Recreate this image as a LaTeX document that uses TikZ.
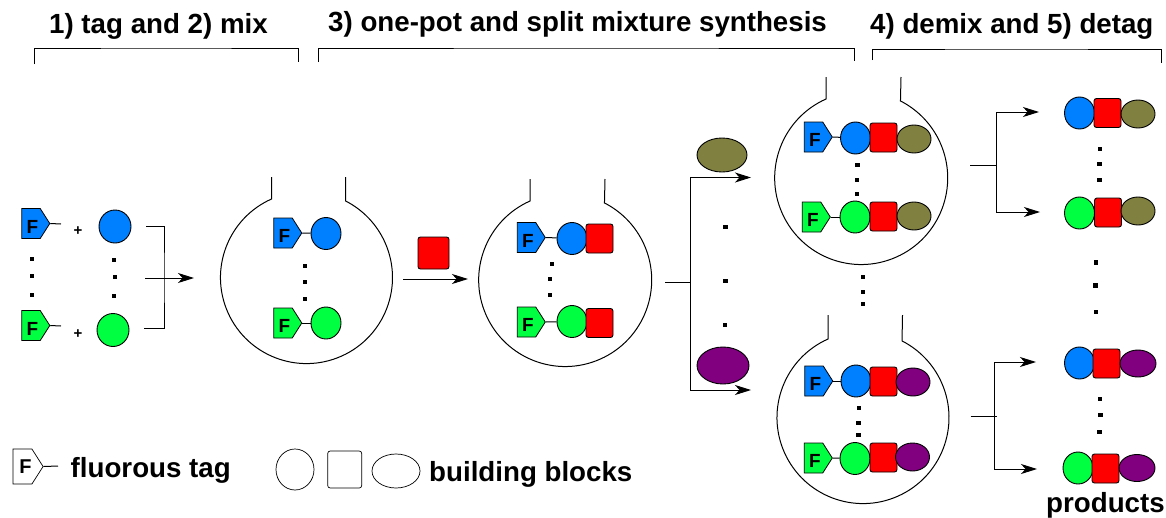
\documentclass[tikz,border=0pt]{standalone}
\usepackage{xcolor}
\usepackage{fontspec}
\setmainfont{Liberation Sans}
\usetikzlibrary{shapes.geometric,shapes.symbols,arrows.meta,positioning}
\definecolor{BlockBlue}{RGB}{0,128,255}
\definecolor{BlockGreen}{RGB}{0,255,64}
\definecolor{BlockRed}{RGB}{255,0,0}
\definecolor{BlockOlive}{RGB}{128,128,64}
\definecolor{BlockPurple}{RGB}{128,0,128}
\newcommand{\tagF}{\raisebox{-3pt}[\height][0pt]{\kern1.5pt F\kern-1.5pt}}
\tikzset{
    line/.style={line width=1pt,color=black},
    tagbox/.style={signal,signal to=east,signal from=nowhere,signal pointer angle=115,draw,line width=0.8pt,inner sep=0pt,xshift=-3.5pt,minimum width=28pt,minimum height=30pt,font=\bfseries\fontsize{19}{19}\selectfont},
    blockcirc/.style={ellipse,draw,line width=0.9pt,inner sep=0pt,minimum width=30pt,minimum height=32pt},
    blocksq/.style={rectangle,draw,line width=0.9pt,rounded corners=2.5pt,inner sep=0pt,minimum width=27pt,minimum height=29pt},
    blockell/.style={ellipse,draw,line width=0.9pt,inner sep=0pt,minimum width=34pt,minimum height=28pt},
    dotmark/.style={rectangle,fill=black,inner sep=0pt,minimum size=4.5pt},
    label/.style={inner sep=0pt,anchor=base west,font=\bfseries\fontsize{27.7}{30}\selectfont},
    plusmark/.style={inner sep=0pt,font=\bfseries\fontsize{15}{15}\selectfont}
}
\begin{document}
\begin{tikzpicture}[x=1pt,y=1pt,yscale=-1,>={Stealth[length=16pt,width=10pt,inset=4.5pt]}]
    \useasboundingbox (0,0) rectangle (1166,517);

    \node[label] (titlemix) at (49,33) {1) tag and 2) mix};
    \node[label] (titlesyn) at (328,31) {3) one-pot and split mixture synthesis};
    \node[label] (titledemix) at (870,33) {4) demix and 5) detag};
    \coordinate (brmixa) at (34,64);
    \coordinate (brmixt) at (166,48);
    \coordinate (brmixb) at (298,62);
    \coordinate (brsyna) at (318,62);
    \coordinate (brsynt) at (586,48);
    \coordinate (brsynb) at (854,61);
    \coordinate (brdemixa) at (872,60);
    \coordinate (brdemixt) at (1016,49);
    \coordinate (brdemixb) at (1161,63);
    \draw[line] (brmixa) |- (brmixt) -| (brmixb);
    \draw[line] (brsyna) |- (brsynt) -| (brsynb);
    \draw[line] (brdemixa) |- (brdemixt) -| (brdemixb);

    \draw[line] (271.5,177) -- (271.5,199) arc[start angle=246,end angle=-63,radius=86] -- (345.5,177);
    \draw[line] (530,179) -- (530,201) arc[start angle=246,end angle=-63,radius=86.5] -- (605,179);
    \draw[line] (826,77) -- (826,99) arc[start angle=246,end angle=-63,radius=86.5] -- (901,77);
    \draw[line] (828,315) -- (828,339) arc[start angle=246,end angle=-63,radius=86] -- (902.5,315);

    \coordinate (tailblue) at (61,224);
    \coordinate (tailgreen) at (61,326);
    \node[tagbox,fill=BlockBlue] (tagblue) at (34.5,223.5) {\tagF};
    \node[tagbox,fill=BlockGreen] (taggreen) at (34.5,325.5) {\tagF};
    \node[plusmark] (plusblue) at (78,231) {+};
    \node[plusmark] (plusgreen) at (78,334) {+};
    \node[blockcirc,fill=BlockBlue,minimum width=32pt,minimum height=33pt] (blueone) at (115,226.5) {};
    \node[blockcirc,fill=BlockGreen,minimum width=32pt,minimum height=33pt] (greenone) at (113,330) {};
    \draw[line] (tagblue.east) -- (tailblue);
    \draw[line] (taggreen.east) -- (tailgreen);

    \coordinate (mixtop) at (146,226);
    \coordinate (mixbar) at (164,278);
    \coordinate (mixbot) at (144,328);
    \coordinate (mixin) at (145,278);
    \coordinate (mixout) at (194,278);
    \draw[line] (mixtop) -| (mixbar) |- (mixbot);
    \draw[->,line] (mixin) -- (mixout);

    \node[tagbox,fill=BlockBlue] (tagbluea) at (286.5,233) {\tagF};
    \node[blockcirc,fill=BlockBlue] (bluea) at (326,233.5) {};
    \node[tagbox,fill=BlockGreen] (taggreena) at (286.5,323) {\tagF};
    \node[blockcirc,fill=BlockGreen] (greena) at (326,323) {};
    \draw[line] (tagbluea.east) -- (bluea);
    \draw[line] (taggreena.east) -- (greena);

    \node[blocksq,fill=BlockRed,minimum width=31pt,minimum height=32pt] (redadd) at (433.5,253) {};
    \coordinate (addin) at (403,279);
    \coordinate (addout) at (468,279);
    \draw[->,line] (addin) -- (addout);

    \node[tagbox,fill=BlockBlue] (tagblueb) at (530,237.5) {\tagF};
    \node[blockcirc,fill=BlockBlue] (blueb) at (572,238.5) {};
    \node[blocksq,fill=BlockRed] (redb) at (599.5,238.5) {};
    \node[tagbox,fill=BlockGreen] (taggreenb) at (530,322) {\tagF};
    \node[blockcirc,fill=BlockGreen] (greenb) at (572,321.5) {};
    \node[blocksq,fill=BlockRed] (redc) at (599.5,323) {};
    \draw[line] (tagblueb.east) -- (blueb);
    \draw[line] (taggreenb.east) -- (greenb);

    \node[blockell,fill=BlockOlive,minimum width=50pt,minimum height=34pt] (oliveadd) at (722,155) {};
    \node[blockell,fill=BlockPurple,minimum width=52pt,minimum height=37pt] (purpleadd) at (723,365.5) {};
    \coordinate (splitin) at (665,282);
    \coordinate (splitbar) at (690,282);
    \coordinate (splittop) at (751,177.5);
    \coordinate (splitbot) at (751,390);
    \draw[line] (splitin) -- (splitbar);
    \draw[->,line] (splitbar) |- (splittop);
    \draw[->,line] (splitbar) |- (splitbot);

    \node[tagbox,fill=BlockBlue] (tagbluec) at (817,137) {\tagF};
    \node[blockcirc,fill=BlockBlue] (bluec) at (855.5,138) {};
    \node[blocksq,fill=BlockRed] (redd) at (883.5,137.5) {};
    \node[blockell,fill=BlockOlive] (olivea) at (914,139) {};
    \node[tagbox,fill=BlockGreen] (taggreenc) at (815,217) {\tagF};
    \node[blockcirc,fill=BlockGreen] (greenc) at (855,217) {};
    \node[blocksq,fill=BlockRed] (rede) at (883.5,216.5) {};
    \node[blockell,fill=BlockOlive] (oliveb) at (914,216) {};
    \draw[line] (tagbluec.east) -- (bluec);
    \draw[line] (taggreenc.east) -- (greenc);

    \node[tagbox,fill=BlockBlue] (tagblued) at (817.5,381) {\tagF};
    \node[blockcirc,fill=BlockBlue] (blued) at (856,381) {};
    \node[blocksq,fill=BlockRed] (redf) at (883.5,381.5) {};
    \node[blockell,fill=BlockPurple] (purplea) at (913,382) {};
    \node[tagbox,fill=BlockGreen] (taggreend) at (817,458) {\tagF};
    \node[blockcirc,fill=BlockGreen] (greend) at (855,458.5) {};
    \node[blocksq,fill=BlockRed] (redg) at (883.5,457.5) {};
    \node[blockell,fill=BlockPurple] (purpleb) at (912.5,457) {};
    \draw[line] (tagblued.east) -- (blued);
    \draw[line] (taggreend.east) -- (greend);

    \coordinate (demixin) at (970,165.5);
    \coordinate (demixbar) at (996,165.5);
    \coordinate (demixtop) at (1039,112);
    \coordinate (demixbot) at (1040,212);
    \draw[line] (demixin) -- (demixbar);
    \draw[->,line] (demixbar) |- (demixtop);
    \draw[->,line] (demixbar) |- (demixbot);
    \coordinate (detagin) at (970.5,416);
    \coordinate (detagbar) at (994,416);
    \coordinate (detagtick) at (997,416);
    \coordinate (detagtop) at (1036,362);
    \coordinate (detagbot) at (1037,469);
    \draw[line] (detagin) -- (detagtick);
    \draw[->,line] (detagbar) |- (detagtop);
    \draw[->,line] (detagbar) |- (detagbot);

    \node[blockcirc,fill=BlockBlue] (prodbluea) at (1079.5,113) {};
    \node[blocksq,fill=BlockRed] (prodreda) at (1107.5,113) {};
    \node[blockell,fill=BlockOlive] (prodolivea) at (1138,114) {};
    \node[blockcirc,fill=BlockGreen] (prodgreena) at (1079.5,213) {};
    \node[blocksq,fill=BlockRed] (prodredb) at (1108,212.5) {};
    \node[blockell,fill=BlockOlive] (prodoliveb) at (1138,211) {};
    \node[blockcirc,fill=BlockBlue] (prodblueb) at (1079.5,363) {};
    \node[blocksq,fill=BlockRed] (prodredc) at (1106.5,363.5) {};
    \node[blockell,fill=BlockPurple,minimum width=36pt,minimum height=27pt] (prodpurplea) at (1138,363.5) {};
    \node[blockcirc,fill=BlockGreen] (prodgreenb) at (1078,468) {};
    \node[blocksq,fill=BlockRed] (prodredd) at (1105.5,468.5) {};
    \node[blockell,fill=BlockPurple,minimum width=36pt,minimum height=27pt] (prodpurpleb) at (1137,468) {};
    \node[label] (products) at (1046,512) {products};

    \foreach \dotx/\doty [count=\i] in {32/259,32/276,32/295,114/260,115/277,114/296,305/266,305/282,305/299,552/264,550/279,550/295,725.5/227,725.5/281,725/325,857.5/165,857/180,857/194,863/277,863/292,863/304,859/408,858.5/423,858.5/435,1100/149,1099.5/164,1099.5/180,1096/262.5,1095.5/285.5,1096/312,1100/399,1100.5/415,1099.5/432}
        \node[dotmark] (dot\i) at (\dotx,\doty) {};

    \coordinate (tailkey) at (58,466);
    \node[tagbox,line width=0.7pt,minimum width=30pt,minimum height=35pt,font=\bfseries\fontsize{20}{20}\selectfont] (tagkey) at (26,466.5) {\kern3pt F\kern-3pt};
    \draw[line] (tagkey.east) -- (tailkey);
    \node[label] (keytag) at (70.5,477) {fluorous tag};
    \node[blockcirc,line width=0.7pt,minimum width=38pt,minimum height=41pt] (circkey) at (295,469.5) {};
    \node[blocksq,line width=0.7pt,minimum width=34pt,minimum height=37pt] (sqkey) at (344.7,469.5) {};
    \node[blockell,line width=0.7pt,minimum width=48pt,minimum height=34pt] (ellkey) at (396,471) {};
    \node[label] (keyblocks) at (429,481) {building blocks};
\end{tikzpicture}
\end{document}
